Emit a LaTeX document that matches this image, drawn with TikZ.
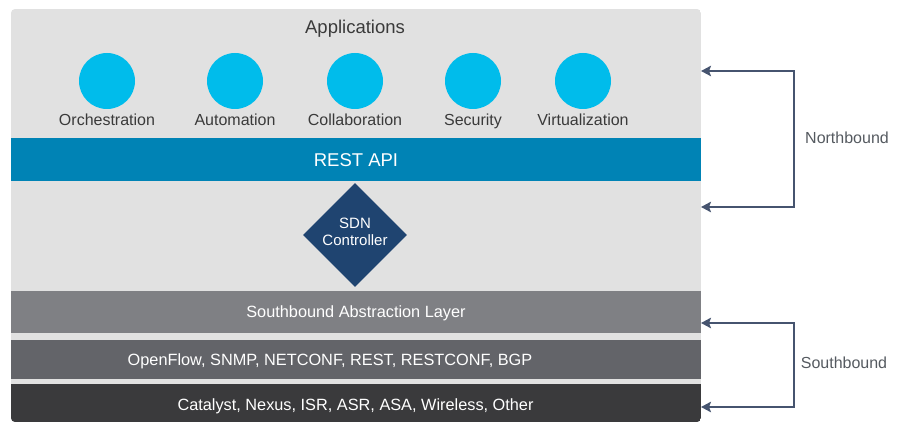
\documentclass[tikz,border=0pt]{standalone}
\usepackage{fontspec}
\setmainfont{Liberation Sans}
\usetikzlibrary{arrows.meta,shapes.geometric}
\definecolor{bgpanel}{HTML}{E1E1E1}
\definecolor{appblue}{HTML}{00BCEB}
\definecolor{restblue}{HTML}{0083B5}
\definecolor{sdnblue}{HTML}{1F4470}
\definecolor{sbgrey}{HTML}{7F8084}
\definecolor{protogrey}{HTML}{636469}
\definecolor{devgrey}{HTML}{3A3A3C}
\definecolor{txtdark}{HTML}{3A3A3A}
\definecolor{sidetxt}{HTML}{555A60}
\definecolor{arrowcol}{HTML}{46546F}
\begin{document}
\begin{tikzpicture}[x=1pt,y=-1pt,
  band/.style={minimum width=690pt, inner sep=0pt, anchor=north west},
  bandtext/.style={text=white, inner sep=0pt, text height=11.7pt, text depth=0pt,
    font=\fontsize{16.3}{18}\selectfont},
  app/.style={circle, fill=appblue, minimum size=56pt, inner sep=0pt},
  applabel/.style={text=txtdark, inner sep=0pt, text height=11.5pt, text depth=0pt,
    font=\fontsize{16}{18}\selectfont},
  conn/.style={draw=arrowcol, line width=2.4pt,
    {Stealth[length=10pt,width=10.5pt,inset=2pt]}-{Stealth[length=10pt,width=10.5pt,inset=2pt]}},
  sidelabel/.style={text=sidetxt, inner sep=0pt, text height=11.5pt, text depth=0pt,
    font=\fontsize{16}{18}\selectfont}]
\useasboundingbox (0,0) rectangle (897,427);
\begin{scope}
  \clip[rounded corners=4pt] (11,9) rectangle (701,422);
  \fill[bgpanel] (11,9) rectangle (701,422);
  \node[band, fill=restblue, minimum height=43pt] (rest) at (11,138) {};
  \node[band, fill=sbgrey, minimum height=42pt] (abstr) at (11,291) {};
  \node[band, fill=protogrey, minimum height=39pt] (proto) at (11,340) {};
  \node[band, fill=devgrey, minimum height=42pt] (dev) at (11,384) {};
\end{scope}
\node[bandtext, text height=13.3pt, font=\fontsize{18.5}{20}\selectfont] (resttext) at (356,160) {REST API};
\node[bandtext] (abstrtext) at (356,311.5) {Southbound Abstraction Layer};
\node[bandtext] (prototext) at (330,359.5) {OpenFlow, SNMP, NETCONF, REST, RESTCONF, BGP};
\node[bandtext] (devtext) at (355.5,405) {Catalyst, Nexus, ISR, ASR, ASA, Wireless, Other};
\node[text=txtdark, inner sep=0pt, text height=13.3pt, text depth=0pt, font=\fontsize{18.5}{20}\selectfont] (apps) at (355,27) {Applications};
\node[app] (orch) at (107,81) {};
\node[app] (auto) at (235,81) {};
\node[app] (coll) at (355,81) {};
\node[app] (sec) at (473,81) {};
\node[app] (virt) at (583,81) {};
\node[applabel] (orchl) at (107,119.5) {Orchestration};
\node[applabel] (autol) at (235,119.5) {Automation};
\node[applabel] (colll) at (355,119.5) {Collaboration};
\node[applabel] (secl) at (473,119.5) {Security};
\node[applabel] (virtl) at (583,119.5) {Virtualization};
\node[diamond, fill=sdnblue, minimum width=104pt, minimum height=104pt, inner sep=0pt] (sdn) at (355,235) {};
\node[text=white, inner sep=0pt, align=center, font=\fontsize{15}{17}\selectfont] (sdntext) at (355,232) {SDN\\Controller};
\coordinate (nbTop) at (701,71);
\coordinate (nbBot) at (701,207);
\coordinate (sbTop) at (701,323);
\coordinate (sbBot) at (701,407);
\draw[conn] (nbTop) -- ++(93,0) |- (nbBot);
\draw[conn] (sbTop) -- ++(93,0) |- (sbBot);
\node[sidelabel] (nbl) at (847,138) {Northbound};
\node[sidelabel] (sbl) at (844,363) {Southbound};
\end{tikzpicture}
\end{document}
